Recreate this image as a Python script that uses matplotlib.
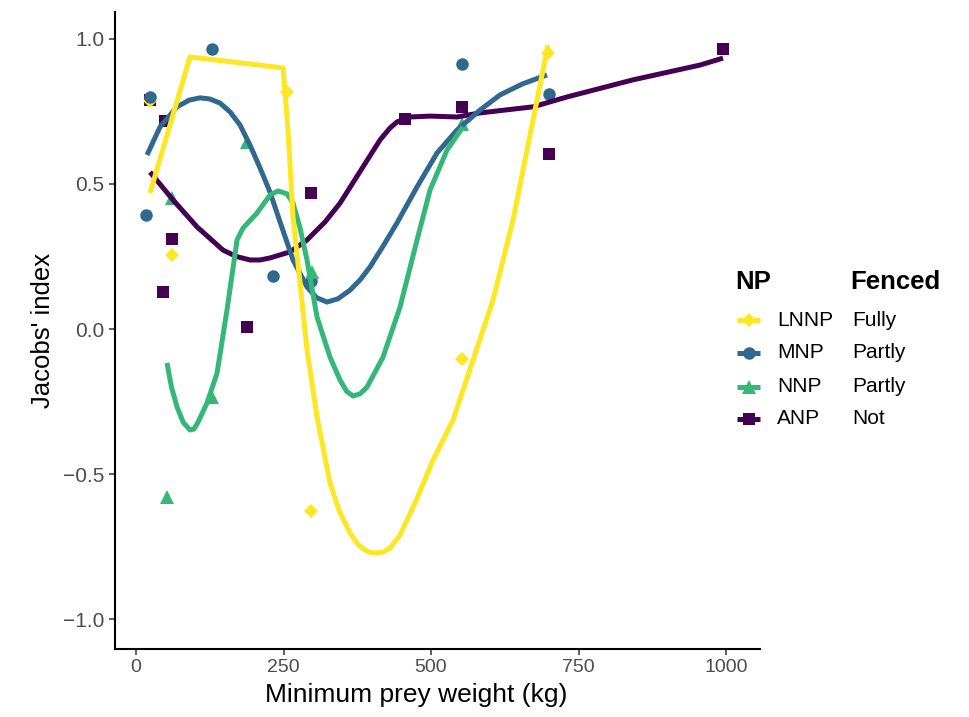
import matplotlib
matplotlib.use("Agg")
import matplotlib.pyplot as plt
from matplotlib.lines import Line2D

plt.rcParams['font.family'] = ['Liberation Sans', 'DejaVu Sans']

# ---- data: observed points ----
lnnp_x = [23.7, 256, 61, 297, 552, 698]
lnnp_y = [0.786, 0.817, 0.255, -0.628, -0.103, 0.952]

mnp_x = [23.7, 128.8, 17, 232, 297, 552.5, 700]
mnp_y = [0.800, 0.966, 0.393, 0.183, 0.166, 0.914, 0.810]

nnp_x = [188, 61, 129, 52.5, 298, 552]
nnp_y = [0.645, 0.450, -0.234, -0.580, 0.197, 0.707]

anp_x = [23.7, 49, 61, 46, 188, 297, 456, 552, 700, 995]
anp_y = [0.790, 0.717, 0.310, 0.128, 0.007, 0.469, 0.724, 0.766, 0.603, 0.966]

# ---- data: smoothed fits ----
lnnp_fit_x = [23.7, 91.5, 249.2, 257.6, 266.1, 278.0, 289.8, 306.8, 328.8, 345.0, 362.7,
              376.0, 388.1, 398.0, 408.5, 420.0, 430.5, 447.5, 475.0, 503.4, 537.3, 571.2,
              605.1, 639.0, 672.9, 698.3]
lnnp_fit_y = [0.469, 0.938, 0.900, 0.686, 0.386, 0.159, -0.072, -0.303, -0.531, -0.630, -0.703,
              -0.742, -0.762, -0.771, -0.772, -0.768, -0.755, -0.710, -0.590, -0.452, -0.314, -0.107,
              0.100, 0.376, 0.721, 0.979]

mnp_fit_x = [18.6, 40.7, 69.5, 90.0, 108.5, 125.0, 142.4, 160.0, 176.3, 193.2, 210.2, 227.1,
             244.1, 266.1, 289.8, 306.0, 323.7, 342.0, 362.7, 380.0, 396.6, 420.0, 442.4, 476.3,
             510.2, 544.1, 583.1, 616.9, 655.0, 696.6]
mnp_fit_y = [0.600, 0.697, 0.766, 0.789, 0.797, 0.793, 0.779, 0.747, 0.703, 0.634, 0.555, 0.472,
             0.369, 0.238, 0.145, 0.108, 0.093, 0.104, 0.134, 0.170, 0.214, 0.290, 0.366, 0.490,
             0.607, 0.686, 0.755, 0.807, 0.845, 0.876]

nnp_fit_x = [52.5, 60.0, 69.5, 80.0, 91.5, 98.0, 105.1, 120.3, 137.3, 154.2, 171.2, 181.4,
             205.1, 227.1, 240.7, 255.9, 266.1, 278.0, 289.8, 306.8, 328.8, 345.8, 357.0,
             367.8, 380.0, 391.5, 418.6, 447.5, 476.3, 498.3, 527.1, 554.2]
nnp_fit_y = [-0.117, -0.200, -0.269, -0.322, -0.348, -0.345, -0.321, -0.255, -0.152, 0.066, 0.307, 0.348,
             0.400, 0.462, 0.476, 0.466, 0.434, 0.348, 0.238, 0.041, -0.097, -0.176, -0.215,
             -0.231, -0.223, -0.200, -0.097, 0.076, 0.307, 0.479, 0.617, 0.697]

anp_fit_x = [23.7, 62.7, 103.4, 147.5, 170.0, 193.2, 210.0, 227.1, 261.0, 289.8, 320.3,
             345.8, 384.7, 413.6, 430.0, 442.4, 464.4, 498.3, 544.1, 583.1, 672.9, 730.5,
             842.4, 955.9, 994.9]
anp_fit_y = [0.541, 0.445, 0.352, 0.272, 0.250, 0.238, 0.238, 0.245, 0.266, 0.307, 0.369,
             0.434, 0.559, 0.652, 0.692, 0.714, 0.731, 0.734, 0.731, 0.745, 0.766, 0.800,
             0.859, 0.910, 0.934]

np_labels = ["LNNP", "MNP", "NNP", "ANP"]
fenced_labels = ["Fully", "Partly", "Partly", "Not"]
x_ticks = [0, 250, 500, 750, 1000]
y_ticks = [-1.0, -0.5, 0.0, 0.5, 1.0]

colors = ["#FDE725", "#31688E", "#35B779", "#440154"]
markers = ["D", "o", "^", "s"]
msizes = [7.0, 9.0, 10.0, 8.5]

series = [
    (lnnp_x, lnnp_y, lnnp_fit_x, lnnp_fit_y),
    (mnp_x, mnp_y, mnp_fit_x, mnp_fit_y),
    (nnp_x, nnp_y, nnp_fit_x, nnp_fit_y),
    (anp_x, anp_y, anp_fit_x, anp_fit_y),
]

fig = plt.figure(figsize=(9.70, 7.17), dpi=100)
ax = fig.add_axes([0.1186, 0.0949, 0.6649, 0.8884])

point_order = [3, 0, 1, 2]
line_order = [3, 1, 2, 0]
for i in point_order:
    px, py, fx, fy = series[i]
    ax.plot(px, py, linestyle="none", marker=markers[i], ms=msizes[i],
            color=colors[i], markeredgewidth=0, zorder=2)
for i in line_order:
    px, py, fx, fy = series[i]
    ax.plot(fx, fy, color=colors[i], lw=3.6, solid_capstyle="butt",
            solid_joinstyle="round", zorder=3)

ax.set_xlim(-35.6, 1057.6)
ax.set_ylim(-1.103, 1.093)
ax.set_xticks(x_ticks)
ax.set_xticklabels([str(t) for t in x_ticks])
ax.set_yticks(y_ticks)
ax.set_yticklabels([f"{t:.1f}".replace("-", "\u2212") for t in y_ticks])

for side in ["top", "right"]:
    ax.spines[side].set_visible(False)
for side in ["left", "bottom"]:
    ax.spines[side].set_linewidth(1.5)
    ax.spines[side].set_color("black")
ax.tick_params(axis="both", which="major", length=4.5, width=1.1, color="#333333",
               labelcolor="#4D4D4D", pad=3)
ax.tick_params(axis="x", labelsize=14)
ax.tick_params(axis="y", labelsize=15)

W, H = 970.0, 717.0
def fx_(p):
    return p / W
def fy_(p):
    return 1 - p / H

# x label positioned as in the reference (slightly left of panel centre)
fig.text(fx_(416), fy_(695), "Minimum prey weight (kg)", fontsize=19,
         color="black", ha="center", va="center")
ax.set_ylabel("Jacobs' index", fontsize=18.5, color="black", labelpad=6)

# ---- legend (two columns: NP and Fenced) ----
fig.text(fx_(735), fy_(282), "NP", fontsize=18.5, fontweight="bold",
         ha="left", va="center")
fig.text(fx_(850), fy_(282), "Fenced", fontsize=18.5, fontweight="bold",
         ha="left", va="center")
rows_y = [320, 353, 387, 419]
for i in range(4):
    yy = fy_(rows_y[i])
    fig.add_artist(Line2D([fx_(737), fx_(760)], [yy, yy], transform=fig.transFigure,
                          color=colors[i], lw=3.6, solid_capstyle="butt"))
    fig.add_artist(Line2D([fx_(748.5)], [yy], transform=fig.transFigure,
                          color=colors[i], marker=markers[i], ms=msizes[i],
                          markeredgewidth=0, linestyle="none"))
    fig.text(fx_(777), yy, np_labels[i], fontsize=15, ha="left", va="center")
    fig.text(fx_(852), yy, fenced_labels[i], fontsize=15, ha="left", va="center")

fig.savefig("out.png", dpi=100)
